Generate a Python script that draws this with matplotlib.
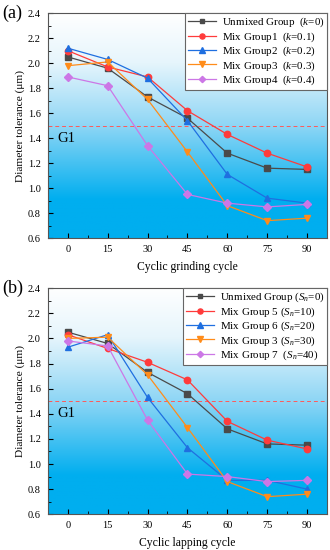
import numpy as np
import matplotlib
matplotlib.use("Agg")
import matplotlib.pyplot as plt
from matplotlib.colors import LinearSegmentedColormap
from matplotlib.ticker import MultipleLocator, FormatStrFormatter

plt.rcParams['font.family'] = ['Liberation Serif', 'DejaVu Serif']
plt.rcParams['mathtext.fontset'] = 'custom'
plt.rcParams['mathtext.it'] = 'Liberation Serif:italic'
plt.rcParams['mathtext.rm'] = 'Liberation Serif'

cycles = [0, 15, 30, 45, 60, 75, 90]

# panel (a)
unmixed_a = [2.05, 1.96, 1.73, 1.56, 1.28, 1.16, 1.15]
mix1_a = [2.10, 1.97, 1.89, 1.62, 1.43, 1.28, 1.17]
mix2_a = [2.12, 2.03, 1.88, 1.54, 1.11, 0.92, 0.88]
mix3_a = [1.98, 2.01, 1.71, 1.29, 0.86, 0.74, 0.76]
mix4_a = [1.89, 1.82, 1.34, 0.95, 0.88, 0.85, 0.87]
labels_a = ['Unmixed Group  ($k$=0)', 'Mix Group1  ($k$=0.1)', 'Mix Group2  ($k$=0.2)',
            'Mix Group3  ($k$=0.3)', 'Mix Group4  ($k$=0.4)']

# panel (b)
unmixed_b = [2.05, 1.96, 1.73, 1.56, 1.28, 1.16, 1.15]
mix5_b = [2.03, 1.92, 1.81, 1.67, 1.34, 1.19, 1.12]
mix6_b = [1.93, 2.03, 1.53, 1.13, 0.87, 0.87, 0.80]
mix3_b = [2.00, 2.01, 1.71, 1.29, 0.86, 0.74, 0.76]
mix7_b = [1.98, 1.94, 1.35, 0.92, 0.90, 0.86, 0.87]
labels_b = ['Unmixed Group ($S_n$=0)', 'Mix Group 5 ($S_n$=10)', 'Mix Group 6 ($S_n$=20)',
            'Mix Group 3 ($S_n$=30)', 'Mix Group 7  ($S_n$=40)']

colors = ['#4a4a4a', '#ff3b3b', '#1f6fe0', '#ff8c1a', '#cc77e6']
markers = ['s', 'o', '^', 'v', 'D']
msizes = [4.2, 4.6, 4.6, 4.6, 4.0]

bg = LinearSegmentedColormap.from_list('bg', [(0.0, '#00aeef'), (0.17, '#00aeef'),
                                               (0.5, '#8ed6f5'), (0.78, '#e6f5fc'),
                                               (1.0, '#ffffff')])

fig = plt.figure(figsize=(3.3, 5.5), dpi=100)
ax1 = fig.add_axes([0.145, 0.567, 0.846, 0.409])
ax2 = fig.add_axes([0.145, 0.065, 0.846, 0.411])


def draw(ax, series, labels, xlabel, tag):
    grad = np.linspace(0, 1, 256).reshape(-1, 1)
    ax.imshow(grad, cmap=bg, origin='lower', extent=[-7.5, 97.5, 0.6, 2.4],
              aspect='auto', zorder=0)
    for s, lab, c, m, ms in zip(series, labels, colors, markers, msizes):
        ax.plot(cycles, s, color=c, marker=m, markersize=ms, lw=0.9, label=lab, zorder=3)
    ax.axhline(1.5, color='#ff5a5a', lw=0.7, ls=(0, (4, 3)), zorder=2)
    ax.text(-3.75, 1.40, 'G1', fontsize=10.5, va='center', ha='left')
    ax.set_xlim(-7.5, 97.5)
    ax.set_ylim(0.6, 2.4)
    ax.set_xticks(cycles)
    ax.xaxis.set_minor_locator(MultipleLocator(7.5))
    ax.yaxis.set_major_locator(MultipleLocator(0.2))
    ax.yaxis.set_minor_locator(MultipleLocator(0.1))
    ax.yaxis.set_major_formatter(FormatStrFormatter('%.1f'))
    ax.tick_params(which='both', direction='in', labelsize=7.5, top=False, right=False)
    ax.tick_params(which='major', length=3.5, pad=5)
    ax.tick_params(which='minor', length=2)
    for sp in ax.spines.values():
        sp.set_color('#555555')
    ax.set_xlabel(xlabel, fontsize=8.4, labelpad=5)
    ax.set_ylabel('Diameter tolerance (μm)', fontsize=8.2, labelpad=2)
    leg = ax.legend(loc='upper right', fontsize=7.9, frameon=True, fancybox=False,
                    borderpad=0.25, labelspacing=0.08, handlelength=2.6,
                    handletextpad=0.5, borderaxespad=0.0, markerscale=0.8)
    leg.get_frame().set_edgecolor('#666666')
    leg.get_frame().set_linewidth(0.8)
    leg.get_frame().set_alpha(1.0)
    ax.text(-0.162, 1.0, tag, transform=ax.transAxes, fontsize=13, va='center', ha='left')


draw(ax1, [unmixed_a, mix1_a, mix2_a, mix3_a, mix4_a], labels_a, 'Cyclic grinding cycle', '(a)')
draw(ax2, [unmixed_b, mix5_b, mix6_b, mix3_b, mix7_b], labels_b, 'Cyclic lapping cycle', '(b)')

fig.savefig('out.png', dpi=100)
